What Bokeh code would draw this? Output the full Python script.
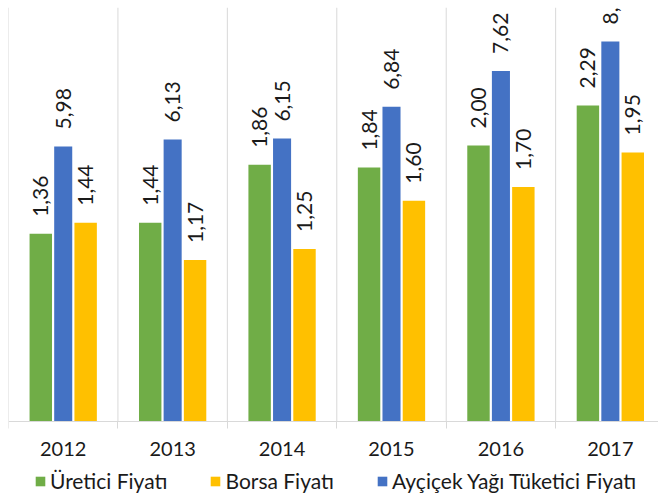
import math
from bokeh.plotting import figure
from bokeh.models import (Range1d, FixedTicker, LabelSet, ColumnDataSource,
                          Legend, LegendItem)
from bokeh.transform import dodge
from bokeh.core.properties import value
from bokeh.embed import file_html
from bokeh.resources import INLINE

# ---- data ----
years = ["2012", "2013", "2014", "2015", "2016", "2017"]
uretici = [1.36, 1.44, 1.86, 1.84, 2.00, 2.29]      # Üretici Fiyatı
borsa = [1.44, 1.17, 1.25, 1.60, 1.70, 1.95]        # Borsa Fiyatı
tuketici = [5.98, 6.13, 6.15, 6.84, 7.62, 8.26]     # Ayçiçek Yağı Tüketici Fiyatı
series_names = ["Üretici Fiyatı", "Borsa Fiyatı", "Ayçiçek Yağı Tüketici Fiyatı"]


def fmt(v):
    return f"{v:.2f}".replace(".", ",")


idx = list(range(len(years)))
centers = [i + 0.5 for i in idx]
bounds = list(range(len(years) + 1))

GREEN, YELLOW, BLUE = "#70AD47", "#FFC000", "#4472C4"
GRID = "#D9D9D9"
FONT = "Lato"
TXT = "#1a1a1a"

# layout: primary axis 0..3 over 414 px, 77 px of room below the baseline
Y_TOP = 3.0
Y_BOT = -Y_TOP * 77 / 414
SEC = 3.0  # secondary axis = 3x primary

src = ColumnDataSource(dict(
    x=centers, ur=uretici, bo=borsa, tu=tuketici,
    ur_l=[fmt(v) for v in uretici], bo_l=[fmt(v) for v in borsa],
    tu_l=[fmt(v) for v in tuketici],
))

p = figure(frame_width=650, frame_height=491,
           x_range=Range1d(0, 5.94), y_range=Range1d(Y_BOT, Y_TOP),
           y_axis_location=None,
           output_backend="svg", toolbar_location=None,
           min_border_left=8, min_border_right=0, min_border_top=7,
           min_border_bottom=0)
p.extra_y_ranges = {"sec": Range1d(Y_BOT * SEC, Y_TOP * SEC)}
p.outline_line_color = None
p.background_fill_color = "white"
p.border_fill_color = "white"
p.xgrid.grid_line_color = None
p.ygrid.grid_line_color = None

# vertical separators between years (grid), from the baseline to the top
p.segment(x0=bounds, y0=[0] * len(bounds), x1=bounds, y1=[Y_TOP] * len(bounds),
          line_color=GRID, line_width=1)

# x axis drawn at the baseline
ax = p.xaxis[0]
ax.fixed_location = 0
ax.ticker = FixedTicker(ticks=centers, minor_ticks=bounds)
ax.major_label_overrides = {c: y for c, y in zip(centers, years)}
ax.major_tick_out = 0
ax.major_tick_in = 0
ax.minor_tick_out = 7
ax.minor_tick_in = 0
ax.minor_tick_line_color = GRID
ax.axis_line_color = GRID
ax.major_label_standoff = 13
ax.major_label_text_font = FONT
ax.major_label_text_font_size = "20px"
ax.major_label_text_color = TXT

OFF = 0.205
r1 = p.vbar(x=dodge("x", -OFF, range=p.x_range), top="ur", width=0.205,
            source=src, fill_color=GREEN, line_color=None)
r3 = p.vbar(x="x", top="tu", width=0.165, source=src, y_range_name="sec",
            fill_color=BLUE, line_color=None)
r2 = p.vbar(x=dodge("x", OFF, range=p.x_range), top="bo", width=0.205,
            source=src, fill_color=YELLOW, line_color=None)

lab_kw = dict(source=src, angle=math.pi / 2, text_align="left",
              text_baseline="middle", y_offset=17,
              text_font=value(FONT), text_font_size="21px", text_color=TXT)
p.add_layout(LabelSet(x=dodge("x", -OFF, range=p.x_range), y="ur", text="ur_l", **lab_kw))
p.add_layout(LabelSet(x="x", y="tu", text="tu_l", y_range_name="sec", **lab_kw))
p.add_layout(LabelSet(x=dodge("x", OFF, range=p.x_range), y="bo", text="bo_l", **lab_kw))

legend = Legend(items=[
    LegendItem(label=series_names[0], renderers=[r1]),
    LegendItem(label=series_names[1], renderers=[r2]),
    LegendItem(label=series_names[2], renderers=[r3]),
], location=(26, 5), orientation="horizontal",
    glyph_width=12, glyph_height=12, label_standoff=4, spacing=42,
    padding=0, margin=0, border_line_color=None, background_fill_alpha=0,
    label_text_font=FONT, label_text_font_size="21px", label_text_color=TXT)
p.add_layout(legend, "center")

open("out.html", "w").write(file_html(p, INLINE))
